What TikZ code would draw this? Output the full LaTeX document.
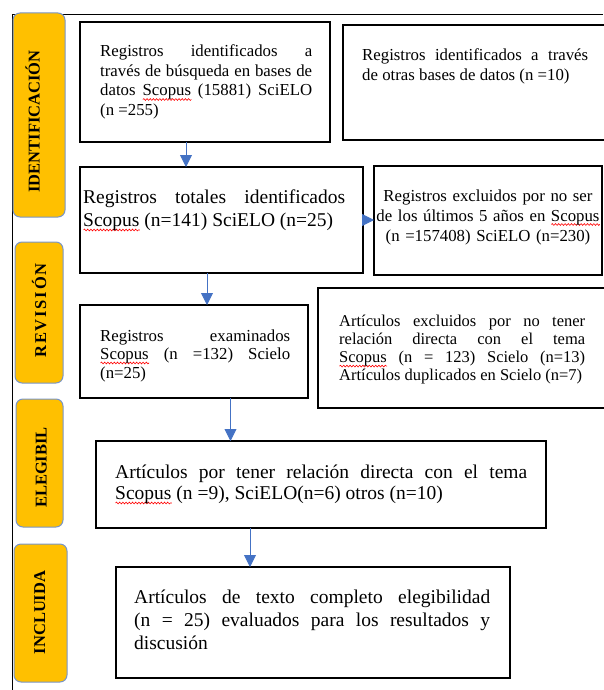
\documentclass[tikz,border=0pt]{standalone}
\usepackage{fontspec}
\setmainfont{Liberation Serif}
\usetikzlibrary{arrows.meta,decorations.pathmorphing}
\definecolor{orangeL}{HTML}{FFC000}
\definecolor{edgeL}{HTML}{7895C8}
\definecolor{arrowC}{HTML}{4472C4}
\newlength\splw
\newcommand\spl[1]{\settowidth\splw{#1}\rlap{\tikz[baseline=0pt,x=1pt,y=1pt]{\draw[red,line width=0.6pt,decorate,decoration={snake,amplitude=0.9pt,segment length=3.2pt}] (0,-3.5) -- (\splw,-3.5);}}#1}
\newcommand\smallfs{\fontsize{16.8}{19.5}\selectfont}
\hyphenpenalty=10000
\tolerance=10000
\begin{document}
\begin{tikzpicture}[x=1pt,y=-1pt,
  box/.style={draw=black,line width=1.6pt,inner sep=0pt,outer sep=0pt},
  lab/.style={draw=edgeL,fill=orangeL,line width=1pt,rounded corners=7pt,inner sep=0pt,outer sep=0pt},
  labtxt/.style={rotate=90,anchor=base,inner sep=0pt,font=\fontsize{16.5}{19}\selectfont\bfseries},
  txt/.style={anchor=base west,inner sep=0pt,align=justify},
  arr/.style={draw=arrowC,line width=0.9pt,-{Triangle[width=12pt,length=12pt]}}]
\useasboundingbox (0,0) rectangle (603,690);
% outer frame
\draw[line width=0.9pt] (12,690) -- (12,14) -- (603,14);
% phase labels
\node[lab,minimum width=52pt,minimum height=204pt] (idb) at (39,115) {};
\node[labtxt] (idt) at (39.5,121.5) {IDENTIFICACIÓN};
\node[lab,minimum width=48pt,minimum height=141pt] (revb) at (39,312.5) {};
\node[labtxt,font=\fontsize{16.5}{19}\selectfont\bfseries\addfontfeature{LetterSpace=11}] (revt) at (46,310.5) {REVISIÓN};
\node[lab,minimum width=47pt,minimum height=128pt] (eleb) at (39.5,463) {};
\node[labtxt] (elet) at (46.5,467.5) {ELEGIBIL};
\node[lab,minimum width=53pt,minimum height=138pt] (incb) at (40.5,613) {};
\node[labtxt] (inct) at (45,612.5) {INCLUIDA};
% boxes
\node[box,minimum width=250pt,minimum height=120pt] (A) at (205,82) {};
\node[box,minimum width=269pt,minimum height=115pt] (B) at (477.5,82.5) {};
\node[box,minimum width=283pt,minimum height=106pt] (C) at (221.5,220) {};
\node[box,minimum width=228pt,minimum height=109pt] (D) at (488,220.5) {};
\node[box,minimum width=228pt,minimum height=93pt] (E) at (194,351.5) {};
\node[box,minimum width=294pt,minimum height=120pt] (F) at (465,348) {};
\node[box,minimum width=450pt,minimum height=87pt] (G) at (321,484.5) {};
\node[box,minimum width=394pt,minimum height=111pt] (H) at (313,622.5) {};
% texts
\node[txt,text width=212pt,font=\smallfs] (tA) at (100,57) {Registros identificados a\linebreak través de búsqueda en bases de\linebreak datos \spl{Scopus} (15881) SciELO\linebreak (n =255)};
\node[txt,text width=226pt,font=\fontsize{16.8}{20}\selectfont] (tB) at (362,61) {Registros identificados a través\linebreak de otras bases de datos (n =10)};
\node[txt,text width=262pt,font=\fontsize{19.5}{23.5}\selectfont] (tC) at (83,203) {Registros totales identificados\linebreak \spl{Scopus} (n=141) SciELO (n=25)};
\node[anchor=base,inner sep=0pt,text width=230pt,align=center,font=\fontsize{16.8}{20}\selectfont] (tD) at (488,201) {Registros excluidos por no ser\\ de los últimos 5 años en \spl{Scopus}\\ (n =157408) SciELO (n=230)};
\node[txt,text width=190pt,font=\fontsize{16.8}{18.5}\selectfont] (tE) at (100,341) {Registros examinados\linebreak \spl{Scopus} (n =132) Scielo\linebreak (n=25)};
\node[txt,text width=246pt,font=\fontsize{16.5}{18.3}\selectfont] (tF) at (339,326) {Artículos excluidos por no tener\linebreak relación directa con el tema\linebreak \spl{Scopus} (n = 123) Scielo (n=13)\linebreak Artículos duplicados en Scielo (n=7)};
\node[txt,text width=412pt,font=\fontsize{19.5}{21.5}\selectfont] (tG) at (115,478) {Artículos por tener relación directa con el tema\linebreak \spl{Scopus} (n =9), SciELO(n=6) otros (n=10)};
\node[txt,text width=356pt,font=\fontsize{19.5}{23}\selectfont] (tH) at (134,603) {Artículos de texto completo elegibilidad\linebreak (n = 25) evaluados para los resultados y\linebreak discusión};
% connectors
\draw[arr] (186,0 |- A.south) -- (186,0 |- C.north);
\draw[arr] (207,0 |- C.south) -- (207,0 |- E.north);
\draw[arr] (230.5,0 |- E.south) -- (230.5,0 |- G.north);
\draw[arr] (250,0 |- G.south) -- (250,0 |- H.north);
\draw[arr] (C.east |- 0,220) -- (D.west |- 0,220);
\end{tikzpicture}
\end{document}
